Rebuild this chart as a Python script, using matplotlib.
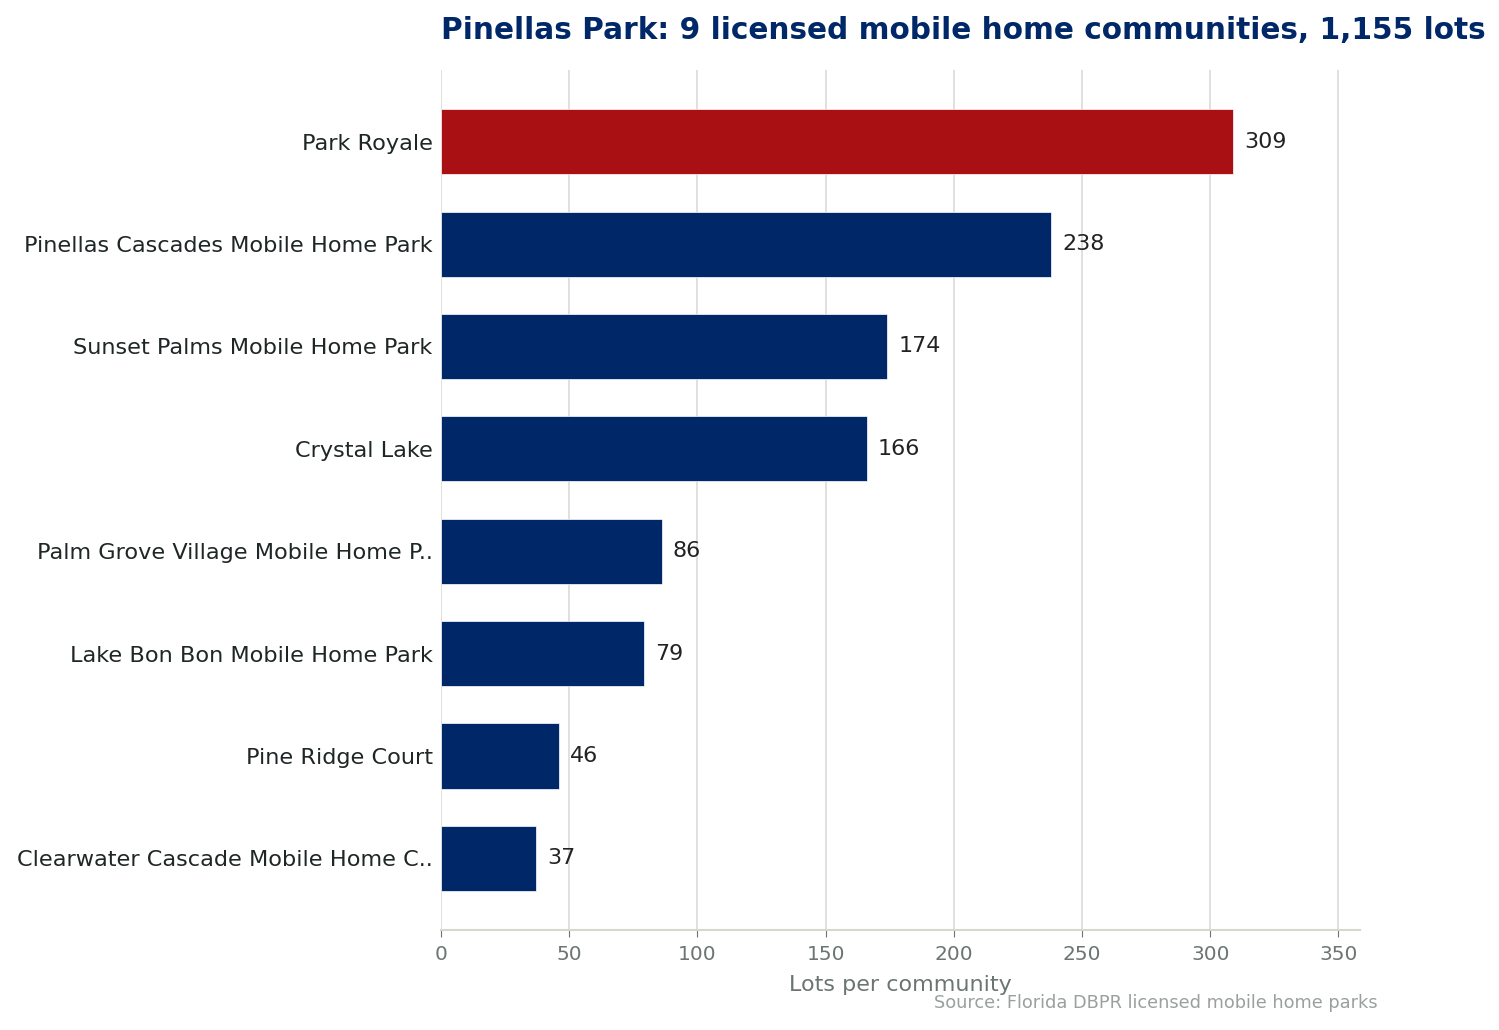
import matplotlib
matplotlib.use("Agg")
import matplotlib.pyplot as plt

categories = [
    "Park Royale",
    "Pinellas Cascades Mobile Home Park",
    "Sunset Palms Mobile Home Park",
    "Crystal Lake",
    "Palm Grove Village Mobile Home P..",
    "Lake Bon Bon Mobile Home Park",
    "Pine Ridge Court",
    "Clearwater Cascade Mobile Home C..",
]
lots = [309, 238, 174, 166, 86, 79, 46, 37]
highlight = "Park Royale"
xticks = [0, 50, 100, 150, 200, 250, 300, 350]

NAVY = "#002868"
RED = "#a81014"

fig = plt.figure(figsize=(14.99, 10.30), dpi=100)
ax = fig.add_axes([0.2942, 0.0971, 0.6131, 0.8349])

colors = [RED if c == highlight else NAVY for c in categories]
ypos = list(range(len(categories)))
ax.barh(ypos, lots, height=0.635, color=colors, edgecolor="white", linewidth=0.5, zorder=3)
ax.invert_yaxis()
ax.set_yticks(ypos)
ax.set_yticklabels(categories, fontsize=16.1, color="#1f2626")
ax.tick_params(axis="y", length=0, pad=6)

ax.set_xlim(0, max(lots) * 1.16)
ax.set_xticks(xticks)
ax.tick_params(axis="x", labelsize=14.5, colors="#6b7670", length=5, color="#6b7670", pad=6)
ax.grid(axis="x", color="#dcdad5", linewidth=1.2, zorder=0)
ax.set_axisbelow(True)

for s in ["top", "right", "left"]:
    ax.spines[s].set_visible(False)
ax.spines["bottom"].set_color("#d9d6cf")
ax.spines["bottom"].set_linewidth(1.5)

for y, v in zip(ypos, lots):
    ax.annotate(f"{v}", (v, y), xytext=(8, 0), textcoords="offset points",
                va="center", ha="left", fontsize=16, color="#222222")

ax.set_xlabel("Lots per community", fontsize=16, color="#6b7670", labelpad=8)
ax.set_title("Pinellas Park: 9 licensed mobile home communities, 1,155 lots",
             loc="left", fontsize=21.3, fontweight="bold", color=NAVY, pad=22)

fig.text(0.919, 0.017, "Source: Florida DBPR licensed mobile home parks",
         ha="right", va="bottom", fontsize=12.8, color="#9aa09c")

fig.savefig("out.png", dpi=100)
